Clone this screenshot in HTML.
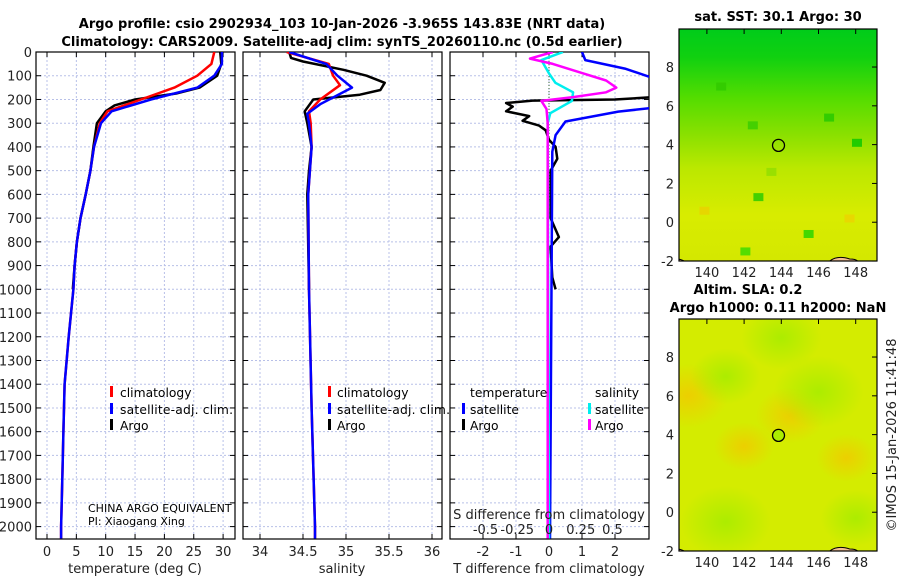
<!DOCTYPE html>
<html><head><meta charset="utf-8">
<style>
html,body{margin:0;padding:0;background:#fff;}
svg{display:block;font-family:"DejaVu Sans","Liberation Sans",sans-serif;}
.t{font-size:13px;font-weight:bold;fill:#000}
.tk{font-size:13px;fill:#222}
.lg{font-size:12.3px;fill:#000}
.sm{font-size:11px;fill:#000}
</style></head>
<body>
<svg id="fig" width="900" height="580" viewBox="0 0 900 580" xmlns="http://www.w3.org/2000/svg">
<defs>
<linearGradient id="sstg" x1="0" y1="0" x2="0" y2="1">
<stop offset="0" stop-color="#00cc1a"/><stop offset="0.12" stop-color="#10d010"/>
<stop offset="0.3" stop-color="#55dd00"/><stop offset="0.45" stop-color="#88e000"/>
<stop offset="0.6" stop-color="#bbe800"/><stop offset="0.8" stop-color="#d8ec00"/>
<stop offset="1" stop-color="#d4e800"/></linearGradient>
<radialGradient id="slaorange" cx="0.5" cy="0.5" r="0.5"><stop offset="0" stop-color="#f2c800" stop-opacity="0.8"/><stop offset="1" stop-color="#f2c800" stop-opacity="0"/></radialGradient>
<radialGradient id="slagreen" cx="0.5" cy="0.5" r="0.5"><stop offset="0" stop-color="#a8ec00" stop-opacity="0.9"/><stop offset="1" stop-color="#a8ec00" stop-opacity="0"/></radialGradient>
<clipPath id="c1"><rect x="36" y="52" width="199" height="487"/></clipPath>
<clipPath id="c2"><rect x="243" y="52" width="199" height="487"/></clipPath>
<clipPath id="c3"><rect x="450" y="52" width="199" height="487"/></clipPath>
<clipPath id="m1c"><rect x="679" y="29" width="198" height="232"/></clipPath>
<clipPath id="m2c"><rect x="679" y="319" width="198" height="232"/></clipPath>
</defs>
<g id="root"></g>
</svg>
<script>
// ---- data ----
const tDepth   = [0,50,100,150,175,200,225,250,300,400,500,600,700,800,900,1000];
const tArgo    = [29.5,29.7,29.0,26.0,22.0,15.0,11.5,10.0,8.5,7.9,7.4,6.6,5.7,5.1,4.7,4.4];
const cDepth   = [0,50,100,150,200,250,300,400,500,600,700,800,900,1000,1200,1400,1600,1800,2000,2050];
const tClim    = [28.5,28.0,25.6,21.7,16.0,10.3,9.0,8.0,7.4,6.6,5.7,5.1,4.7,4.5,3.7,3.0,2.8,2.6,2.4,2.4];
const tSat     = [29.8,29.8,28.5,25.6,17.7,11.0,9.2,8.0,7.4,6.6,5.7,5.1,4.7,4.5,3.7,3.0,2.8,2.6,2.4,2.4];
const sDepth   = [0,25,40,75,100,130,160,180,200,250,300,400,500,600,1000];
const sArgo    = [34.34,34.36,34.5,34.97,35.24,35.45,35.4,35.16,34.62,34.52,34.55,34.6,34.57,34.55,34.57];
const sClimD   = [0,50,100,140,200,250,300,400,600,1000,1500,2000,2050];
const sClim    = [34.31,34.8,34.85,34.93,34.7,34.57,34.59,34.6,34.56,34.57,34.6,34.64,34.64];
const sSat     = [34.34,34.77,34.9,35.07,34.7,34.55,34.57,34.6,34.56,34.57,34.6,34.64,34.64];
const sSatD    = [0,50,100,150,220,260,300,400,600,1000,1500,2000,2050];
const dTArgoD  = [0,80,150,190,200,205,215,230,250,270,290,310,330,370,400,450,500,700,780,820,950,1000];
const dTArgo   = [4,3.5,3.5,3.2,2,-0.5,-1.3,-1.1,-1.3,-0.6,-0.8,-0.3,-0.1,0,0.2,0.25,0.05,0.05,0.3,0.05,0.1,0.2];
const dTSatD   = [0,34,70,126,230,251,293,350,420,2050];
const dTSat    = [1.0,1.1,2.3,3.5,3.5,2.1,0.5,0.2,0.1,0.03];
const dSSatD   = [0,34,90,130,170,206,258,300,2050];
const dSSat    = [0.11,-0.06,0.0,0.05,0.19,0.18,0.01,-0.01,0];
const dSArgoD  = [0,28,50,90,120,150,170,190,206,240,300,2050];
const dSArgo   = [0.03,-0.15,0.03,0.27,0.45,0.53,0.45,0.19,-0.06,-0.02,-0.01,-0.01];
const depthTicks = [0,100,200,300,400,500,600,700,800,900,1000,1100,1200,1300,1400,1500,1600,1700,1800,1900,2000];
const tTicks = [0,5,10,15,20,25,30];
const sTicks = [34,34.5,35,35.5,36];
const dTicks = [-2,-1,0,1,2];
const dsTicks = [-0.5,-0.25,0,0.25,0.5];
const latTicks = [8,6,4,2,0,-2];
const lonTicks = [140,142,144,146,148];
const argoLon = 143.85, argoLat = 3.96;

// ---- helpers ----
const NS="http://www.w3.org/2000/svg";
const root=document.getElementById('root');
function mk(tag,attrs,parent){const e=document.createElementNS(NS,tag);for(const k in attrs)e.setAttribute(k,attrs[k]);(parent||root).appendChild(e);return e;}
const yD=d=>52+d*0.2373;
const xT=t=>47+t*5.87;
const xS=s=>260+(s-34)*86;
const xDT=v=>549+v*33;
const xDS=v=>549+v*127;
const mx=lon=>679+(lon-138.5)*18.6;
const my1=lat=>29+(9.96-lat)*19.4;
const my2=lat=>319+(9.96-lat)*19.4;

function panel(x0,x1,xt,ticks,xf,name){
  const g=mk('g',{});
  
  
  ticks.forEach(v=>{const x=xf(v);mk('line',{x1:x,x2:x,y1:52,y2:539,stroke:'#b8c0e8','stroke-dasharray':'2,2','stroke-width':1},g);
    mk('line',{x1:x,x2:x,y1:539,y2:534,stroke:'#000'},g);mk('line',{x1:x,x2:x,y1:52,y2:57,stroke:'#000'},g);});
  depthTicks.forEach(d=>{const y=yD(d);mk('line',{x1:x0,x2:x1,y1:y,y2:y,stroke:'#b8c0e8','stroke-dasharray':'2,2','stroke-width':1},g);
    mk('line',{x1:x0,x2:x0+5,y1:y,y2:y,stroke:'#000'},g);mk('line',{x1:x1-5,x2:x1,y1:y,y2:y,stroke:'#000'},g);});
  mk('rect',{x:x0,y:52,width:x1-x0,height:487,fill:'none',stroke:'#000','stroke-width':1.2},g);
  ticks.forEach((v,i)=>{const t=mk('text',{x:xf(v),y:556,'text-anchor':'middle',class:'tk'},g);t.textContent=xt[i];});
  return g;
}
function line(xs,ds,xf,color,clip,name,w){
  const pts=xs.map((v,i)=>xf(v).toFixed(1)+','+yD(ds[i]).toFixed(1)).join(' ');
  const p=mk('polyline',{points:pts,fill:'none',stroke:color,'stroke-width':w||2.5,'stroke-linejoin':'round','clip-path':'url(#'+clip+')'});
  
  
}
function txt(x,y,s,cls,extra,name){const t=mk('text',Object.assign({x:x,y:y,class:cls},extra||{}));t.textContent=s;
  
  return t;}
function legBar(x,y,c){mk('rect',{x:x,y:y-11,width:3,height:11,fill:c});}

// titles
txt(342,28,'Argo profile: csio 2902934_103 10-Jan-2026 -3.965S 143.83E (NRT data)','t',{'text-anchor':'middle'},'main-title');
txt(342,46,'Climatology: CARS2009. Satellite-adj clim: synTS_20260110.nc (0.5d earlier)','t',{'text-anchor':'middle'},'main-subtitle');

// panel 1
panel(36,235,tTicks.map(String),tTicks,xT,'temperature-panel');
depthTicks.forEach(d=>{const t=txt(32,yD(d)+5,String(d),'tk',{'text-anchor':'end'},'depth-tick-label');});
txt(135,573,'temperature (deg C)','tk',{'text-anchor':'middle'},'temperature-x-axis-title');
line(tArgo,tDepth,xT,'#000','c1','temperature-argo-line');
line(tClim,cDepth,xT,'#ff0000','c1','temperature-climatology-line');
line(tSat,cDepth,xT,'#0000ff','c1','temperature-satellite-line');
legBar(110,397,'#f00');txt(120,397,'climatology','lg',{},'legend-climatology');
legBar(110,414,'#00f');txt(120,414,'satellite-adj. clim.','lg',{textLength:113},'legend-satellite');
legBar(110,430,'#000');txt(120,430,'Argo','lg',{},'legend-argo');
txt(88,512,'CHINA ARGO EQUIVALENT','sm',{},'institution-label');
txt(88,525,'PI: Xiaogang Xing','sm',{},'pi-label');

// panel 2
panel(243,442,sTicks.map(String),sTicks,xS,'salinity-panel');
txt(342,573,'salinity','tk',{'text-anchor':'middle'},'salinity-x-axis-title');
line(sArgo,sDepth,xS,'#000','c2','salinity-argo-line');
line(sClim,sClimD,xS,'#ff0000','c2','salinity-climatology-line');
line(sSat,sSatD,xS,'#0000ff','c2','salinity-satellite-line');
legBar(328,397,'#f00');txt(337,397,'climatology','lg',{},'legend-climatology-2');
legBar(328,414,'#00f');txt(337,414,'satellite-adj. clim.','lg',{textLength:113},'legend-satellite-2');
legBar(328,430,'#000');txt(337,430,'Argo','lg',{},'legend-argo-2');

// panel 3
panel(450,649,dTicks.map(String),dTicks,xDT,'difference-panel');
mk('line',{x1:549,x2:549,y1:52,y2:200,stroke:'#336633','stroke-dasharray':'1,2'});
line(dTArgo,dTArgoD,xDT,'#000','c3','t-diff-argo-line');
line(dTSat,dTSatD,xDT,'#0000ff','c3','t-diff-satellite-line');
line(dSSat,dSSatD,xDS,'#00eeee','c3','s-diff-satellite-line');
line(dSArgo,dSArgoD,xDS,'#ff00ff','c3','s-diff-argo-line');
txt(470,397,'temperature','lg',{},'legend-temperature-header');
txt(595,397,'salinity','lg',{},'legend-salinity-header');
legBar(462,414,'#00f');txt(470,414,'satellite','lg',{},'legend-t-satellite');
legBar(462,430,'#000');txt(470,430,'Argo','lg',{},'legend-t-argo');
legBar(588,414,'#0ee');txt(595,414,'satellite','lg',{},'legend-s-satellite');
legBar(588,430,'#f0f');txt(595,430,'Argo','lg',{},'legend-s-argo');
txt(549,519,'S difference from climatology','tk',{'text-anchor':'middle'},'s-diff-axis-title');
dsTicks.forEach(v=>txt(xDS(v),534,String(v),'tk',{'text-anchor':'middle'},'s-diff-tick-label'));
txt(549,573,'T difference from climatology','tk',{'text-anchor':'middle'},'t-diff-axis-title');

// maps
function mapFrame(myf,top,clip,name,kind){
  const g=mk('g',{});
  
  
  const inner=mk('g',{'clip-path':'url(#'+clip+')'},g);
  if(kind==='sst'){
    mk('rect',{x:679,y:top,width:198,height:232,fill:'url(#sstg)'},inner);
    const cells=[[140.5,7.2,'#33cc00'],[142.2,5.2,'#44d000'],[146.3,5.6,'#33cc00'],[147.8,4.3,'#22cc00'],[142.5,1.5,'#44d000'],[145.2,-0.4,'#44d800'],[141.8,-1.3,'#55dd00'],[147.4,0.4,'#e8d800'],[139.6,0.8,'#e6d600'],[143.2,2.8,'#99e000']];
    cells.forEach(c=>mk('rect',{x:mx(c[0]),y:myf(c[1]),width:10,height:8,fill:c[2]},inner));
  } else {
    mk('rect',{x:679,y:top,width:198,height:232,fill:'#d4ec00'},inner);
    [[139,6,'slaorange',40],[144.5,5,'slaorange',35],[142,3.4,'slaorange',30],[147.5,2.8,'slaorange',30],[146,6.2,'slagreen',45],[141,-0.5,'slagreen',45],[148,-0.3,'slagreen',35],[144,9,'slagreen',40],[141,7,'slagreen',35]]
      .forEach(c=>mk('ellipse',{cx:mx(c[0]),cy:myf(c[1]),rx:c[3],ry:c[3]*0.8,fill:'url(#'+c[2]+')'},inner));
  }
  mk('path',{d:`M679 ${myf(-1.9)} q8 2 14 ${myf(-2)-myf(-1.9)+6} L679 ${myf(-2)+6}Z`,fill:'#f5c090',stroke:'#000'},inner);
  mk('path',{d:`M${mx(146.6)} ${myf(-2)} q8 -6 20 -2 q6 0 8 2Z`,fill:'#f5c090',stroke:'#000'},inner);
  mk('rect',{x:679,y:top,width:198,height:232,fill:'none',stroke:'#000','stroke-width':1.2},g);
  latTicks.forEach(l=>{const y=myf(l);mk('line',{x1:872,x2:877,y1:y,y2:y,stroke:'#000'},g);
    const t=mk('text',{x:674,y:y+5,'text-anchor':'end',class:'tk'},g);t.textContent=String(l);});
  lonTicks.forEach(l=>{const x=mx(l);mk('line',{x1:x,x2:x,y1:top,y2:top+5,stroke:'#000'},g);
    const t=mk('text',{x:x,y:top+232+16,'text-anchor':'middle',class:'tk'},g);t.textContent=String(l);});
  const c=mk('circle',{cx:mx(argoLon),cy:myf(argoLat),r:6,fill:kind==='sst'?'none':'#aaee00',stroke:'#000','stroke-width':1.3},g);
  
  
}
mapFrame(my1,29,'m1c','sst-map','sst');
mapFrame(my2,319,'m2c','sla-map','sla');
txt(778,21,'sat. SST: 30.1 Argo: 30','t',{'text-anchor':'middle'},'sst-map-title');
txt(748,294,'Altim. SLA: 0.2','t',{'text-anchor':'middle'},'sla-map-title');
txt(778,312,'Argo h1000: 0.11 h2000: NaN','t',{'text-anchor':'middle'},'sla-map-subtitle');
txt(0,0,'©IMOS 15-Jan-2026 11:41:48','tk',{transform:'translate(896,435) rotate(-90)','text-anchor':'middle'},'imos-timestamp');
</script>
</body></html>
